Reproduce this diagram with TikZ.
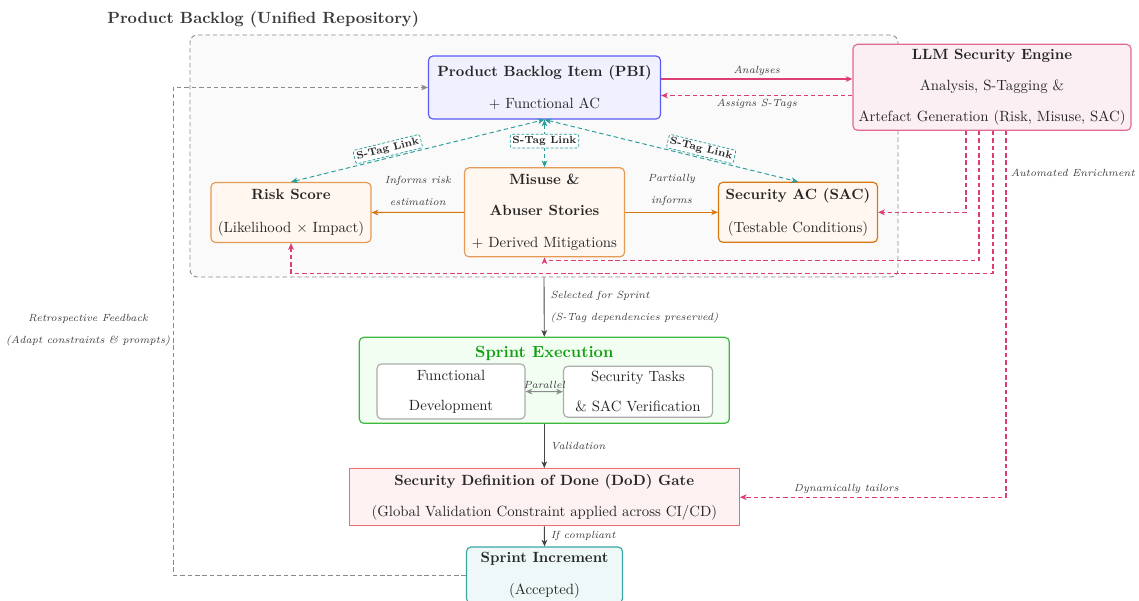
\documentclass[tikz,border=0pt]{standalone}
\usetikzlibrary{arrows.meta,calc}

% palette
\definecolor{txt}{HTML}{262626}
\definecolor{lbl}{HTML}{3A3A3A}
\definecolor{pbiF}{HTML}{F0F0FF}
\definecolor{pbiD}{HTML}{5A5AF5}
\definecolor{llmF}{HTML}{FCEFF4}
\definecolor{llmD}{HTML}{E06A93}
\definecolor{crim}{HTML}{DC3D73}
\definecolor{orF}{HTML}{FFF7F0}
\definecolor{orD}{HTML}{E49A55}
\definecolor{orDk}{HTML}{D9770F}
\definecolor{stag}{HTML}{2A9D99}
\definecolor{repF}{HTML}{FAFAFA}
\definecolor{repD}{HTML}{8A8A8A}
\definecolor{grnF}{HTML}{F2FEF2}
\definecolor{grnD}{HTML}{3DB83D}
\definecolor{grnT}{HTML}{12A012}
\definecolor{dodF}{HTML}{FDF1F1}
\definecolor{dodD}{HTML}{F06A6A}
\definecolor{incF}{HTML}{EEF8F8}
\definecolor{incD}{HTML}{3AA6A6}
\definecolor{flow}{HTML}{444444}
\definecolor{par}{HTML}{8C8C8C}

% drawing unit
\newdimen\pxu \pxu=0.6757pt

\begin{document}
\begin{tikzpicture}[
  x=\pxu, y=-\pxu,
  >={Stealth[length=4.5pt,width=3.8pt,inset=1.2pt]},
  box/.style={draw, line width=0.8pt, rounded corners=3pt, align=center,
    inner sep=0pt, text=txt, font=\normalsize},
  lab/.style={font=\scriptsize\itshape, text=lbl, align=center, inner sep=1pt},
  tagl/.style={draw=stag, dash pattern=on 2pt off 1.2pt, line width=0.5pt, fill=white,
    rounded corners=1.5pt, inner sep=1.5pt, font=\scriptsize\bfseries, text=txt},
  crimA/.style={draw=crim, line width=0.7pt, ->},
  crimD/.style={draw=crim, line width=0.7pt, dash pattern=on 3pt off 2pt, ->},
  orA/.style={draw=orDk, line width=0.7pt, ->},
  stagL/.style={draw=stag, line width=0.65pt, dash pattern=on 3pt off 2pt, <->},
  flowA/.style={draw=flow, line width=0.6pt, ->},
  parA/.style={draw=par, line width=0.7pt, <->},
  retro/.style={draw=repD, line width=0.6pt, dash pattern=on 3pt off 2pt, ->},
]
\useasboundingbox (0,0) rectangle (1139,600);

% unified backlog container
\node[draw=repD, fill=repF, dash pattern=on 3pt off 2pt, line width=0.6pt,
      rounded corners=5pt, minimum width=708\pxu, minimum height=242\pxu, inner sep=0pt]
      (repo) at (544,156) {};
\node[font=\fontsize{10.95}{13}\selectfont\bfseries, text=lbl, anchor=west, inner sep=0pt]
      (repotitle) at (107,19.5) {Product Backlog (Unified Repository)};

% backlog artefacts
\node[box, fill=pbiF, draw=pbiD, minimum width=232\pxu, minimum height=63\pxu]
  (pbi) at (544.5,87.5) {\textbf{Product Backlog Item (PBI)}\\[10pt]$+$ Functional AC};
\node[box, fill=llmF, draw=llmD, minimum width=278\pxu, minimum height=86\pxu]
  (llm) at (992,87.3) {\textbf{LLM Security Engine}\\[9pt]Analysis, S-Tagging \&\\[9pt]Artefact Generation (Risk, Misuse, SAC)};
\node[box, fill=orF, draw=orD, minimum width=160\pxu, minimum height=60\pxu]
  (risk) at (291,212.5) {\textbf{Risk Score}\\[10pt](Likelihood $\times$ Impact)};
\node[box, fill=orF, draw=orD, minimum width=160\pxu, minimum height=89\pxu]
  (misuse) at (544.5,212.3) {\textbf{Misuse \&}\\[9pt]\textbf{Abuser Stories}\\[9.5pt]$+$ Derived Mitigations};
\node[box, fill=orF, draw=orDk, minimum width=159\pxu, minimum height=60\pxu]
  (sac) at (798,212.3) {\textbf{Security AC (SAC)}\\[10pt](Testable Conditions)};

% sprint execution
\node[box, fill=grnF, draw=grnD, minimum width=370\pxu, minimum height=86\pxu]
  (sprint) at (544.3,380.3) {};
\node[font=\fontsize{10.95}{13}\selectfont\bfseries, text=grnT, inner sep=0pt]
  (sprintT) at (544.3,353.7) {Sprint Execution};
\node[box, fill=white, draw=gray!65, minimum width=148\pxu, minimum height=55\pxu]
  (fdev) at (451,391.5) {Functional\\[8pt]Development};
\node[box, fill=white, draw=gray!65, minimum width=149\pxu, minimum height=51\pxu]
  (stask) at (638,391.7) {Security Tasks\\[8pt]\& SAC Verification};

% gate and increment
\node[box, rounded corners=0pt, fill=dodF, draw=dodD, minimum width=390\pxu, minimum height=57\pxu]
  (dod) at (544.3,497.2) {\textbf{Security Definition of Done (DoD) Gate}\\[9pt](Global Validation Constraint applied across CI/CD)};
\node[box, fill=incF, draw=incD, minimum width=156\pxu, minimum height=56\pxu]
  (inc) at (544.5,575) {\textbf{Sprint Increment}\\[9.5pt](Accepted)};

% engine <-> PBI
\draw[crimA] ($(pbi.east)+(0,-8.5)$) -- node[lab, above=1pt]{Analyses} ($(llm.west)+(0,-8.3)$);
\draw[crimD] ($(llm.west)+(0,8.2)$) -- node[lab, below=1pt]{Assigns S-Tags} ($(pbi.east)+(0,8)$);

% misuse stories inform risk and SAC
\draw[orA] (misuse.west) -- node[lab, above=3pt]{Informs risk\\[7pt]estimation} (risk.east);
\draw[orA] (misuse.east) -- node[lab, above=3pt]{Partially\\[7pt]informs} (sac.west);

% S-Tag links
\draw[stagL] (risk.north) -- node[tagl, sloped, pos=0.39, above=1pt]{S-Tag Link} (pbi.south);
\draw[stagL] (pbi.south) -- node[tagl, pos=0.45]{S-Tag Link} (misuse.north);
\draw[stagL] (pbi.south) -- node[tagl, sloped, pos=0.61, above=1pt]{S-Tag Link} (sac.north);

% automated enrichment from the engine
\coordinate (e1) at ($(llm.south)+(-26,0)$);
\coordinate (e2) at ($(llm.south)+(-13,0)$);
\coordinate (e3) at ($(llm.south)+(1,0)$);
\coordinate (e4) at ($(llm.south)+(14,0)$);
\draw[crimD] (e1) |- (sac.east);
\draw[crimD] (e2) -- ++(0,129.3) -| (misuse.south);
\draw[crimD] (e3) -- ++(0,142.3) -| (risk.south);
\draw[crimD] (e4) |- node[lab, pos=0.057, right=2pt]{Automated Enrichment}
                      node[lab, pos=0.8, above=1pt]{Dynamically tailors} (dod.east);

% sprint flow
\draw[flowA] (repo.south) -- node[lab, align=left, right=3pt]{Selected for Sprint\\[7pt](S-Tag dependencies preserved)} (sprint.north);
\draw[parA] (fdev.east) -- node[lab, above=1pt]{Parallel} (stask.west);
\draw[flowA] (sprint.south) -- node[lab, right=3pt]{Validation} (dod.north);
\draw[flowA] (dod.south) -- node[lab, right=3pt]{If compliant} (inc.north);

% retrospective feedback loop
\coordinate (rx) at (173,0);
\draw[retro] (inc.west) -- (inc.west -| rx) -- (pbi.west -| rx) -- (pbi.west);
\node[lab] (retrolbl) at (88,330) {Retrospective Feedback\\[7pt](Adapt constraints \& prompts)};

\end{tikzpicture}
\end{document}
